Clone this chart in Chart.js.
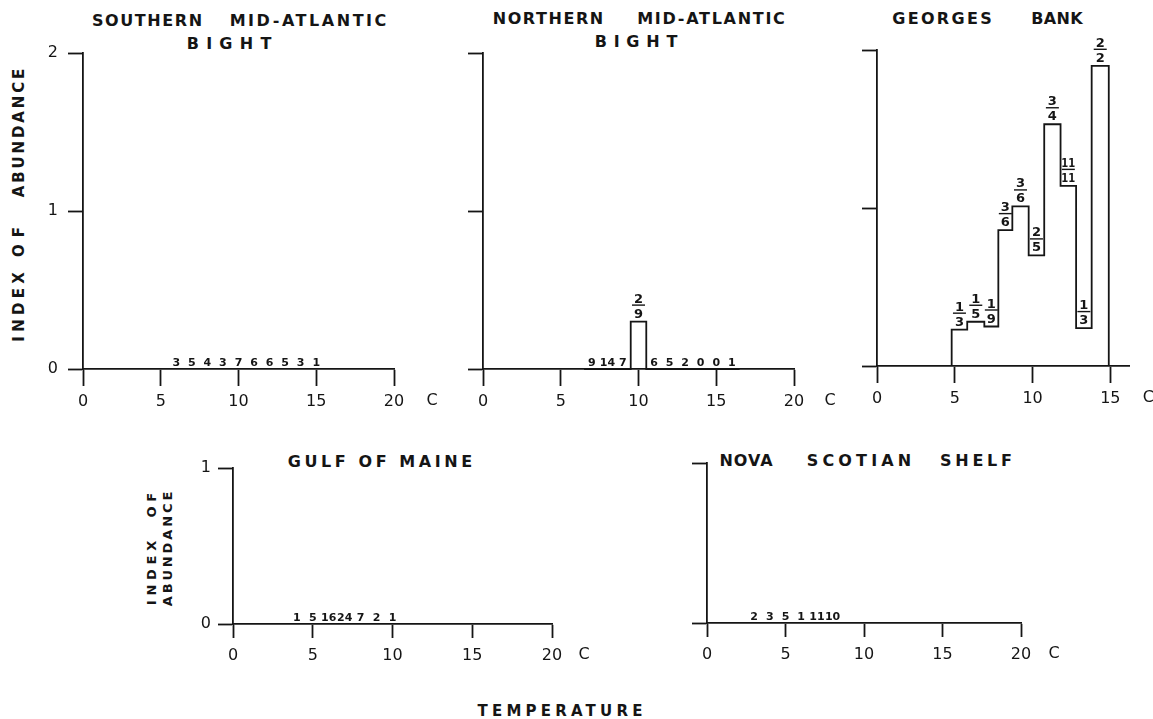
<!DOCTYPE html>
<html>
<head>
<meta charset="utf-8">
<title>Index of abundance by temperature</title>
<script src="https://cdn.jsdelivr.net/npm/chart.js@4.4.0/dist/chart.umd.min.js"></script>
<style>
  body { margin: 0; width: 1153px; height: 719px; position: relative; overflow: hidden; background: #fff;
         font-family: "DejaVu Sans", "Liberation Sans", sans-serif; color: #151515; }
  .t { position: absolute; transform: translate(-50%, -50%); white-space: pre; font-weight: bold;
       font-size: 16px; line-height: 1; }
  .v { transform: translate(-50%, -50%) rotate(-90deg); }
  canvas { position: absolute; }
</style>
</head>
<body>
<!-- panel titles -->
<div class="t" style="left:147px;top:21px" data-w="110">SOUTHERN</div>
<div class="t" style="left:308px;top:21px" data-w="157">MID-ATLANTIC</div>
<div class="t" style="left:229px;top:44px" data-w="85">BIGHT</div>
<div class="t" style="left:548px;top:19px" data-w="111">NORTHERN</div>
<div class="t" style="left:711px;top:19px" data-w="148">MID-ATLANTIC</div>
<div class="t" style="left:636px;top:42px" data-w="83">BIGHT</div>
<div class="t" style="left:942px;top:19px" data-w="100">GEORGES</div>
<div class="t" style="left:1057px;top:19px" data-w="51">BANK</div>
<div class="t" style="left:380px;top:462px" data-w="185">GULF OF MAINE</div>
<div class="t" style="left:746px;top:461px" data-w="53">NOVA</div>
<div class="t" style="left:859px;top:461px" data-w="105">SCOTIAN</div>
<div class="t" style="left:976px;top:461px" data-w="72">SHELF</div>
<!-- axis titles -->
<div class="t v" style="left:19px;top:307px;font-size:15px" data-w="69">INDEX</div>
<div class="t v" style="left:19px;top:242px;font-size:15px" data-w="30">OF</div>
<div class="t v" style="left:19px;top:133px;font-size:15px" data-w="129">ABUNDANCE</div>
<div class="t v" style="left:151px;top:549px;font-size:13px" data-w="112">INDEX  OF</div>
<div class="t v" style="left:167px;top:549px;font-size:13px" data-w="115">ABUNDANCE</div>
<div class="t" style="left:560px;top:711px;font-size:15px" data-w="165">TEMPERATURE</div>

<script>
const INK = '#151515';
const FONT = '"DejaVu Sans", "Liberation Sans", sans-serif';

// tick labels
const topXTicks = [0, 5, 10, 15, 20];
const gbXTicks = [0, 5, 10, 15];
const topYTicks = [0, 1, 2];
const bottomYTicks = [0, 1];

// Southern Mid-Atlantic Bight: tows per 1 C class, none positive
const smabTemps    = [6, 7, 8, 9, 10, 11, 12, 13, 14, 15];
const smabTows     = [3, 5, 4, 3, 7, 6, 6, 5, 3, 1];
const smabPositive = [0, 0, 0, 0, 0, 0, 0, 0, 0, 0];
const smabIndex    = [0, 0, 0, 0, 0, 0, 0, 0, 0, 0];

// Northern Mid-Atlantic Bight
const nmabTemps    = [7, 8, 9, 10, 11, 12, 13, 14, 15, 16];
const nmabTows     = [9, 14, 7, 9, 6, 5, 2, 0, 0, 1];
const nmabPositive = [0, 0, 0, 2, 0, 0, 0, 0, 0, 0];
const nmabIndex    = [0, 0, 0, 0.30, 0, 0, 0, 0, 0, 0];

// Georges Bank (class edges as drawn)
const gbTemps    = [5, 6, 7, 8, 9, 10, 11, 12, 13, 14];
const gbEdges    = [4.8, 5.8, 6.9, 7.8, 8.7, 9.75, 10.75, 11.8, 12.8, 13.8, 14.9];
const gbTows     = [3, 5, 9, 6, 6, 5, 4, 11, 3, 2];
const gbPositive = [1, 1, 1, 3, 3, 2, 3, 11, 1, 2];
const gbIndex    = [0.23, 0.28, 0.25, 0.86, 1.01, 0.70, 1.53, 1.14, 0.24, 1.90];

// Gulf of Maine
const gomTemps    = [4, 5, 6, 7, 8, 9, 10];
const gomTows     = [1, 5, 16, 24, 7, 2, 1];
const gomPositive = [0, 0, 0, 0, 0, 0, 0];
const gomIndex    = [0, 0, 0, 0, 0, 0, 0];

// Nova Scotian Shelf
const nssTemps    = [3, 4, 5, 6, 7, 8];
const nssTows     = [2, 3, 5, 1, 11, 10];
const nssPositive = [0, 0, 0, 0, 0, 0];
const nssIndex    = [0, 0, 0, 0, 0, 0];

// layout of each panel (pixel box of the plot area) kept apart from the data
const panels = [
  { temps: smabTemps, tows: smabTows, positive: smabPositive, index: smabIndex,
    box: { x0: 83, y0: 369, x1: 394, y1: 53 }, xMax: 20, xTicks: topXTicks, yMax: 2, yTicks: topYTicks,
    yLabels: true, xTickLen: 17, xPad: 6, yPad: 10, unitGap: 38 },
  { temps: nmabTemps, tows: nmabTows, positive: nmabPositive, index: nmabIndex,
    box: { x0: 483, y0: 369, x1: 794, y1: 53 }, xMax: 20, xTicks: topXTicks, yMax: 2, yTicks: topYTicks,
    yLabels: false, xTickLen: 17, xPad: 6, yPad: 10, unitGap: 36 },
  { temps: gbTemps, tows: gbTows, positive: gbPositive, index: gbIndex, edges: gbEdges,
    box: { x0: 877, y0: 366, x1: 1129, y1: 50 }, xMax: 16.2, xTicks: gbXTicks, yMax: 2, yTicks: topYTicks,
    yLabels: false, xTickLen: 17, xPad: 6, yPad: 10, unitGap: 38 },
  { temps: gomTemps, tows: gomTows, positive: gomPositive, index: gomIndex,
    box: { x0: 233, y0: 624, x1: 552, y1: 468 }, xMax: 20, xTicks: topXTicks, yMax: 1, yTicks: bottomYTicks,
    yLabels: true, xTickLen: 14, xPad: 8, yPad: 7, unitGap: 32 },
  { temps: nssTemps, tows: nssTows, positive: nssPositive, index: nssIndex,
    box: { x0: 707, y0: 623, x1: 1021, y1: 463 }, xMax: 20, xTicks: topXTicks, yMax: 1, yTicks: bottomYTicks,
    yLabels: false, xTickLen: 14, xPad: 8, yPad: 7, unitGap: 33 }
];

const PAD = { l: 70, t: 40, r: 60, b: 50 };

function classEdges(p) {
  if (p.edges) return p.edges;
  return p.temps.map(t => t - 0.5).concat(p.temps[p.temps.length - 1] + 0.5);
}

// outline of the histogram, drawn as a stepped line
function stepPoints(p) {
  const e = classEdges(p);
  const pts = [{ x: e[0], y: 0 }];
  p.index.forEach((v, i) => pts.push({ x: e[i], y: v }));
  pts.push({ x: e[e.length - 1], y: p.index[p.index.length - 1] });
  pts.push({ x: e[e.length - 1], y: 0 });
  return pts;
}

function squeezeText(ctx, txt, x, y, maxW) {
  const w = ctx.measureText(txt).width;
  if (w <= maxW) { ctx.fillText(txt, x, y); return; }
  ctx.save();
  ctx.translate(x, y);
  ctx.scale(maxW / w, 1);
  ctx.fillText(txt, 0, 0);
  ctx.restore();
}

// tow counts on the baseline, positive/total fractions above the bars, unit "C"
function labelPlugin(p) {
  return {
    id: 'panelLabels',
    afterDatasetsDraw(chart) {
      const { ctx, scales: { x, y } } = chart;
      const e = classEdges(p);
      const base = y.getPixelForValue(0);
      ctx.save();
      ctx.fillStyle = INK;
      ctx.strokeStyle = INK;
      ctx.textAlign = 'center';
      ctx.textBaseline = 'alphabetic';
      p.temps.forEach((t, i) => {
        if (p.positive[i] > 0) {
          const cx = x.getPixelForValue((e[i] + e[i + 1]) / 2);
          const top = y.getPixelForValue(p.index[i]);
          ctx.font = 'bold 13px ' + FONT;
          squeezeText(ctx, String(p.tows[i]), cx, top - 4, 14);
          squeezeText(ctx, String(p.positive[i]), cx, top - 19, 14);
          ctx.lineWidth = 1.4;
          ctx.beginPath();
          ctx.moveTo(cx - 6.5, top - 16.5);
          ctx.lineTo(cx + 6.5, top - 16.5);
          ctx.stroke();
        } else {
          ctx.font = 'bold 11px ' + FONT;
          ctx.fillText(String(p.tows[i]), x.getPixelForValue(t), base - 3);
        }
      });
      ctx.font = '16px ' + FONT;
      ctx.textBaseline = 'middle';
      const last = p.xTicks[p.xTicks.length - 1];
      ctx.fillText('C', x.getPixelForValue(last) + p.unitGap, x.top + p.xTickLen + p.xPad + 9);
      ctx.restore();
    }
  };
}

Chart.defaults.font.family = FONT;
Chart.defaults.color = INK;

panels.forEach(p => {
  const c = document.createElement('canvas');
  const w = p.box.x1 - p.box.x0 + PAD.l + PAD.r;
  const h = p.box.y0 - p.box.y1 + PAD.t + PAD.b;
  c.width = w;
  c.height = h;
  c.style.left = (p.box.x0 - PAD.l) + 'px';
  c.style.top = (p.box.y1 - PAD.t) + 'px';
  c.style.width = w + 'px';
  c.style.height = h + 'px';
  document.body.appendChild(c);

  const hasBars = p.index.some(v => v > 0);
  new Chart(c, {
    type: 'line',
    data: {
      datasets: hasBars ? [{
        data: stepPoints(p),
        stepped: 'before',
        borderColor: INK,
        borderWidth: 1.8,
        pointRadius: 0,
        fill: false,
        clip: false
      }] : []
    },
    options: {
      responsive: false,
      animation: false,
      events: [],
      layout: { padding: { left: 0, top: PAD.t, right: PAD.r, bottom: 0 } },
      plugins: { legend: { display: false }, tooltip: { enabled: false } },
      scales: {
        x: {
          type: 'linear', min: 0, max: p.xMax,
          afterBuildTicks: s => { s.ticks = p.xTicks.map(v => ({ value: v })); },
          afterFit: s => { s.height = PAD.b; },
          border: { display: true, color: INK, width: 1.8 },
          grid: { drawOnChartArea: false, tickLength: p.xTickLen, tickColor: INK, tickWidth: 1.8 },
          ticks: { autoSkip: false, maxRotation: 0, padding: p.xPad, color: INK, font: { size: 16 } }
        },
        y: {
          type: 'linear', min: 0, max: p.yMax,
          afterBuildTicks: s => { s.ticks = p.yTicks.map(v => ({ value: v })); },
          afterFit: s => { s.width = PAD.l; },
          border: { display: true, color: INK, width: 1.8 },
          grid: { drawOnChartArea: false, tickLength: 15, tickColor: INK, tickWidth: 1.8 },
          ticks: { autoSkip: false, padding: p.yPad, color: INK, font: { size: 16 },
                   callback: v => (p.yLabels ? v : '') }
        }
      }
    },
    plugins: [labelPlugin(p)]
  });
});

// spread the lettering so each word spans the same width as in the figure
document.querySelectorAll('[data-w]').forEach(el => {
  const target = +el.dataset.w;
  const n = el.textContent.length;
  if (n < 2) return;
  el.style.letterSpacing = '0px';
  const natural = el.offsetWidth;
  const s = (target - natural) / (n - 1);
  el.style.letterSpacing = s + 'px';
  el.style.paddingLeft = s + 'px';
});
</script>
</body>
</html>
